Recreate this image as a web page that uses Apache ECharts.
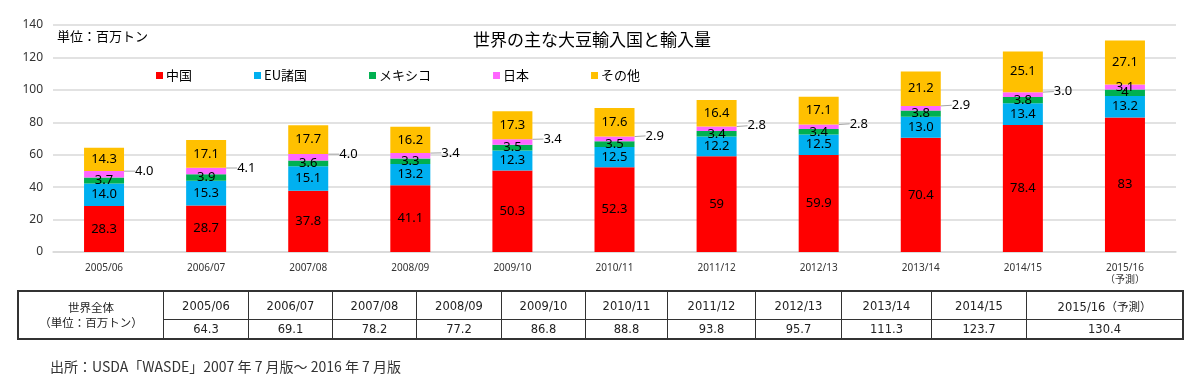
<!DOCTYPE html>
<html>
<head>
<meta charset="utf-8">
<script src="https://cdn.jsdelivr.net/npm/echarts@6/dist/echarts.min.js"></script>
<style>
  html, body { margin: 0; padding: 0; background: #fff; }
  #wrap { position: relative; width: 1200px; height: 388px; overflow: hidden; }
  #chart { position: absolute; left: 0; top: 0; width: 1200px; height: 388px; }
  #tbl { position: absolute; left: 17px; top: 290px; border-collapse: collapse; border: 2px solid #333; }
  #tbl td { border: 1px solid #333; text-align: center; padding: 0;
            font-family: 'DejaVu Sans', 'Noto Sans CJK JP', sans-serif; font-size: 11.5px; color: #222; }
  #tbl tr.h td { height: 27px; }
  #tbl tr.v td { height: 18px; }
  #tbl td.first { width: 144px; line-height: 15px; font-size: 11.5px; font-family: 'Noto Sans CJK JP', sans-serif; }
  #src { position: absolute; left: 50px; top: 356px; font-family: 'Noto Sans CJK JP', sans-serif; font-size: 14px; color: #333; }
</style>
</head>
<body>
<div id="wrap">
  <div id="chart"></div>
  <table id="tbl"></table>
  <div id="src">出所：USDA「WASDE」2007 年 7 月版～ 2016 年 7 月版</div>
</div>
<script>
const categories = ['2005/06','2006/07','2007/08','2008/09','2009/10','2010/11','2011/12','2012/13','2013/14','2014/15','2015/16\n（予測）'];
const tableYears = ['2005/06','2006/07','2007/08','2008/09','2009/10','2010/11','2011/12','2012/13','2013/14','2014/15','2015/16（予測）'];
const china  = ['28.3','28.7','37.8','41.1','50.3','52.3','59','59.9','70.4','78.4','83'];
const eu     = ['14.0','15.3','15.1','13.2','12.3','12.5','12.2','12.5','13.0','13.4','13.2'];
const mexico = ['3.7','3.9','3.6','3.3','3.5','3.5','3.4','3.4','3.8','3.8','4'];
const japan  = ['4.0','4.1','4.0','3.4','3.4','2.9','2.8','2.8','2.9','3.0','3.1'];
const others = ['14.3','17.1','17.7','16.2','17.3','17.6','16.4','17.1','21.2','25.1','27.1'];
const worldTotal = ['64.3','69.1','78.2','77.2','86.8','88.8','93.8','95.7','111.3','123.7','130.4'];
const yTicks = [0, 20, 40, 60, 80, 100, 120, 140];

// table
const colW = [85,84,84,85,84,82,88,86,90,95,156];
let html = '<tr class="h"><td class="first" rowspan="2">世界全体<br>（単位：百万トン）</td>';
tableYears.forEach((y,i)=>{ html += '<td style="width:'+(colW[i]-1)+'px">'+y+'</td>'; });
html += '</tr><tr class="v">';
worldTotal.forEach(v=>{ html += '<td>'+v+'</td>'; });
html += '</tr>';
document.getElementById('tbl').innerHTML = html;

const FONT = "'Noto Sans', 'Noto Sans CJK JP', sans-serif";
const JP = "'Noto Sans CJK JP', sans-serif";
const lbl = { show: true, position: 'inside', color: '#000', fontSize: 13, fontFamily: FONT };
function mk(name, arr, color, extra) {
  return Object.assign({
    name: name, type: 'bar', stack: 'total', barWidth: 40,
    itemStyle: { color: color },
    label: Object.assign({}, lbl, { formatter: p => arr[p.dataIndex] }),
    data: arr.map(Number)
  }, extra || {});
}
const last = japan.length - 1;
const chart = echarts.init(document.getElementById('chart'), null, { renderer: 'canvas' });
chart.setOption({
  animation: false,
  textStyle: { fontFamily: FONT },
  title: [
    { text: '世界の主な大豆輸入国と輸入量', left: 587, top: 26, textAlign: 'center',
      textStyle: { fontSize: 17, fontWeight: 'normal', color: '#000', fontFamily: JP } },
    { text: '単位：百万トン', left: 52, top: 25,
      textStyle: { fontSize: 13, fontWeight: 'normal', color: '#000', fontFamily: JP } }
  ],
  legend: {
    left: 151, top: 64, itemWidth: 7, itemHeight: 7, itemGap: 62, icon: 'rect',
    textStyle: { fontSize: 13, color: '#000', fontFamily: JP, padding: [0,0,0,-2] },
    data: ['中国','EU諸国','メキシコ','日本','その他']
  },
  grid: { left: 53, right: 24, top: 25, bottom: 136 },
  xAxis: {
    type: 'category', data: categories,
    axisTick: { show: false },
    axisLine: { lineStyle: { color: '#d9d9d9', width: 1.5 } },
    axisLabel: { fontSize: 10, color: '#333', margin: 10, lineHeight: 12 }
  },
  yAxis: {
    type: 'value', min: yTicks[0], max: yTicks[yTicks.length-1], interval: 20,
    axisLabel: { fontSize: 12, color: '#333', margin: 10 },
    splitLine: { lineStyle: { color: '#d9d9d9', width: 1.5 } },
    axisLine: { show: false }, axisTick: { show: false }
  },
  series: [
    mk('中国', china, '#FF0000'),
    mk('EU諸国', eu, '#00B0F0'),
    mk('メキシコ', mexico, '#00B050'),
    mk('日本', japan, '#FF66FF', {
      data: japan.map((v,i)=> i===last ? { value: Number(v) } :
        { value: Number(v), label: { position: 'right', distance: 4 } }),
      labelLayout: p => p.dataIndex === last ? {} : { dx: 7, dy: -3 },
      labelLine: { show: true, length2: 0, lineStyle: { color: '#a6a6a6', width: 1 } }
    }),
    mk('その他', others, '#FFC000')
  ]
});
</script>
</body>
</html>
